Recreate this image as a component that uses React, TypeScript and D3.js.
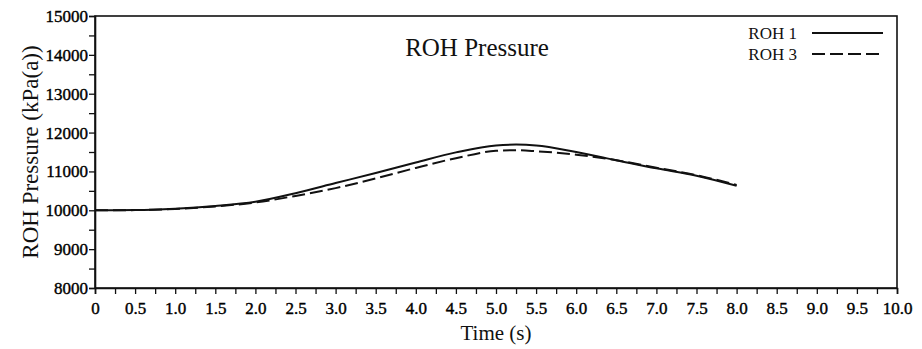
import React, { useEffect, useRef } from "react";
import * as d3 from "d3";

// time points (s)
const times = [0, 0.5, 1.0, 1.5, 2.0, 2.5, 3.0, 3.5, 4.0, 4.5, 5.0, 5.25, 5.5, 6.0, 6.5, 7.0, 7.5, 8.0];
// ROH pressure, kPa(a)
const roh1 = [10000, 10005, 10040, 10110, 10220, 10440, 10700, 10960, 11230, 11490, 11670, 11690, 11670, 11500, 11290, 11080, 10890, 10630];
const roh3 = [10000, 10005, 10035, 10100, 10200, 10370, 10570, 10820, 11090, 11340, 11530, 11545, 11520, 11430, 11290, 11095, 10905, 10650];

const xTickLabels = ["0", "0.5", "1.0", "1.5", "2.0", "2.5", "3.0", "3.5", "4.0", "4.5", "5.0", "5.5", "6.0", "6.5", "7.0", "7.5", "8.0", "8.5", "9.0", "9.5", "10.0"];
const yTicks = [8000, 9000, 10000, 11000, 12000, 13000, 14000, 15000];

const series = [
  { name: "ROH 1", values: roh1, dash: null },
  { name: "ROH 3", values: roh3, dash: "13,5" },
];

const W = 922;
const H = 349;
const serif = "'Liberation Serif', 'DejaVu Serif', serif";

export default function App() {
  const svgRef = useRef<SVGSVGElement>(null);

  useEffect(() => {
    if (!svgRef.current) return;
    const svg = d3.select(svgRef.current);
    svg.selectAll("*").remove();

    const margin = { top: 16, right: 25, bottom: 61, left: 95 };
    const x = d3.scaleLinear().domain([0, 10]).range([margin.left, W - margin.right]);
    const y = d3.scaleLinear().domain([8000, 15000]).range([H - margin.bottom, margin.top]);

    // frame
    svg.append("rect")
      .attr("x", x(0)).attr("y", y(15000))
      .attr("width", x(10) - x(0)).attr("height", y(8000) - y(15000))
      .attr("fill", "none").attr("stroke", "#111").attr("stroke-width", 1.6);

    // x axis
    const xAxis = d3.axisBottom(x)
      .tickValues(d3.range(0, 10.001, 0.25))
      .tickSize(6)
      .tickFormat((d) => {
        const i = Math.round((d as number) * 2);
        return Math.abs((d as number) * 2 - i) < 1e-6 ? xTickLabels[i] : "";
      });
    const gx = svg.append("g").attr("transform", `translate(0,${y(8000)})`).call(xAxis);
    gx.attr("font-family", serif);
    gx.select(".domain").attr("stroke", "#111").attr("stroke-width", 1.6);
    gx.selectAll("line").attr("stroke", "#111").attr("stroke-width", 1.3);
    gx.selectAll("text")
      .attr("fill", "#000").attr("font-family", serif).attr("font-size", 17)
      .attr("stroke", "#000").attr("stroke-width", 0.4)
      .attr("dy", "1.0em");

    // y axis
    const yAxis = d3.axisLeft(y)
      .tickValues(d3.range(8000, 15001, 500))
      .tickSize(6)
      .tickFormat((d) => (yTicks.includes(d as number) ? String(d) : ""));
    const gy = svg.append("g").attr("transform", `translate(${x(0)},0)`).call(yAxis);
    gy.attr("font-family", serif);
    gy.select(".domain").attr("stroke", "#111").attr("stroke-width", 1.6);
    gy.selectAll("line").attr("stroke", "#111").attr("stroke-width", 1.3);
    gy.selectAll("text")
      .attr("fill", "#000").attr("font-family", serif).attr("font-size", 17)
      .attr("stroke", "#000").attr("stroke-width", 0.4)
      .attr("x", -7);

    // curves
    const line = d3.line<number>()
      .x((_, i) => x(times[i]))
      .y((d) => y(d))
      .curve(d3.curveMonotoneX);

    series.forEach((s) => {
      svg.append("path")
        .datum(s.values)
        .attr("d", line)
        .attr("fill", "none")
        .attr("stroke", "#111")
        .attr("stroke-width", 2)
        .attr("stroke-dasharray", s.dash);
    });

    // legend
    series.forEach((s, i) => {
      const ly = 33 + i * 21;
      svg.append("text")
        .attr("x", 797).attr("y", ly + 6)
        .attr("text-anchor", "end")
        .attr("font-family", serif).attr("font-size", 17)
        .attr("fill", "#111")
        .text(s.name);
      svg.append("line")
        .attr("x1", 812).attr("x2", 883)
        .attr("y1", ly).attr("y2", ly)
        .attr("stroke", "#111").attr("stroke-width", 2.2)
        .attr("stroke-dasharray", s.dash);
    });

    // title
    svg.append("text")
      .attr("x", 477).attr("y", 56)
      .attr("text-anchor", "middle")
      .attr("font-family", serif).attr("font-size", 25)
      .attr("fill", "#111")
      .text("ROH Pressure");

    // axis titles
    svg.append("text")
      .attr("x", (x(0) + x(10)) / 2).attr("y", 340)
      .attr("text-anchor", "middle")
      .attr("font-family", serif).attr("font-size", 21)
      .attr("fill", "#111")
      .text("Time (s)");

    svg.append("text")
      .attr("transform", `translate(38,${152}) rotate(-90)`)
      .attr("text-anchor", "middle")
      .attr("font-family", serif).attr("font-size", 23)
      .attr("fill", "#111")
      .text("ROH Pressure (kPa(a))");
  }, []);

  return (
    <svg
      ref={svgRef}
      width={W}
      height={H}
      style={{ position: "absolute", left: 0, top: 0, background: "#fff" }}
    />
  );
}
